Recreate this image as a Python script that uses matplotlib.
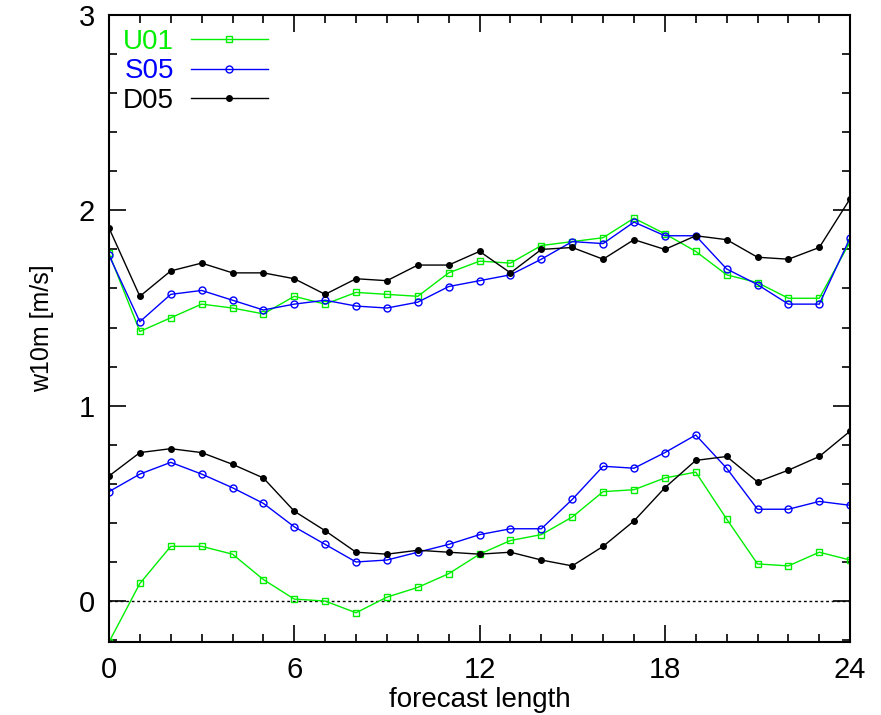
import matplotlib
matplotlib.use("Agg")
import matplotlib.pyplot as plt
from matplotlib.ticker import MultipleLocator

plt.rcParams['font.family'] = ['Liberation Sans Narrow', 'Liberation Sans', 'DejaVu Sans']

hours = list(range(25))

# upper group of curves
u01_hi = [1.78, 1.38, 1.45, 1.52, 1.50, 1.47, 1.56, 1.52, 1.58, 1.57, 1.56, 1.68, 1.74,
          1.73, 1.82, 1.84, 1.86, 1.96, 1.88, 1.79, 1.67, 1.63, 1.55, 1.55, 1.84]
s05_hi = [1.77, 1.43, 1.57, 1.59, 1.54, 1.49, 1.52, 1.54, 1.51, 1.50, 1.53, 1.61, 1.64,
          1.67, 1.75, 1.84, 1.83, 1.94, 1.87, 1.87, 1.70, 1.62, 1.52, 1.52, 1.86]
d05_hi = [1.91, 1.56, 1.69, 1.73, 1.68, 1.68, 1.65, 1.57, 1.65, 1.64, 1.72, 1.72, 1.79,
          1.68, 1.80, 1.81, 1.75, 1.85, 1.80, 1.87, 1.85, 1.76, 1.75, 1.81, 2.06]

# lower group of curves
u01_lo = [-0.21, 0.09, 0.28, 0.28, 0.24, 0.11, 0.01, 0.00, -0.06, 0.02, 0.07, 0.14, 0.24,
          0.31, 0.34, 0.43, 0.56, 0.57, 0.63, 0.66, 0.42, 0.19, 0.18, 0.25, 0.21]
s05_lo = [0.56, 0.65, 0.71, 0.65, 0.58, 0.50, 0.38, 0.29, 0.20, 0.21, 0.25, 0.29, 0.34,
          0.37, 0.37, 0.52, 0.69, 0.68, 0.76, 0.85, 0.68, 0.47, 0.47, 0.51, 0.49]
d05_lo = [0.64, 0.76, 0.78, 0.76, 0.70, 0.63, 0.46, 0.36, 0.25, 0.24, 0.26, 0.25, 0.24,
          0.25, 0.21, 0.18, 0.28, 0.41, 0.58, 0.72, 0.74, 0.61, 0.67, 0.74, 0.87]

series = [
    ("U01", u01_hi, u01_lo, "#00ee00", "s", "none", 5),
    ("S05", s05_hi, s05_lo, "#0000ff", "o", "none", 5),
    ("D05", d05_hi, d05_lo, "black", "o", "black", 4),
]

fig = plt.figure(figsize=(8.81, 7.15), dpi=100)
ax = fig.add_axes([0.1237, 0.102, 0.8413, 0.877])

ax.axhline(0, color="black", linestyle=(0, (2, 2)), linewidth=1)

for name, hi, lo, color, marker, fill, ms in series:
    ax.plot(hours, hi, color=color, marker=marker, markerfacecolor=fill,
            markersize=ms, linewidth=1, markeredgewidth=1, label=name)
    ax.plot(hours, lo, color=color, marker=marker, markerfacecolor=fill,
            markersize=ms, linewidth=1, markeredgewidth=1)

ax.set_xlim(0, 24)
ax.set_ylim(-0.21, 3)
ax.xaxis.set_major_locator(MultipleLocator(6))
ax.xaxis.set_minor_locator(MultipleLocator(1))
ax.yaxis.set_major_locator(MultipleLocator(1))
ax.yaxis.set_minor_locator(MultipleLocator(0.2))
ax.tick_params(which="both", direction="in", top=True, right=True, labelsize=21, width=1.2)
ax.tick_params(which="major", length=12, pad=10)
ax.tick_params(which="minor", length=6)
for s in ax.spines.values():
    s.set_linewidth(1.5)

ax.set_xlabel("forecast length", fontsize=20, labelpad=2)
ax.set_ylabel("w10m [m/s]", fontsize=18, labelpad=18)

leg = ax.legend(loc="upper left", frameon=False, markerfirst=False, fontsize=20,
                handlelength=2.8, handletextpad=0.6, labelspacing=0.12,
                borderaxespad=0.1, borderpad=0.4, bbox_to_anchor=(0.0, 1.0))
for text, (name, hi, lo, color, *_rest) in zip(leg.get_texts(), series):
    text.set_color(color)

fig.savefig("out.png", dpi=100)
